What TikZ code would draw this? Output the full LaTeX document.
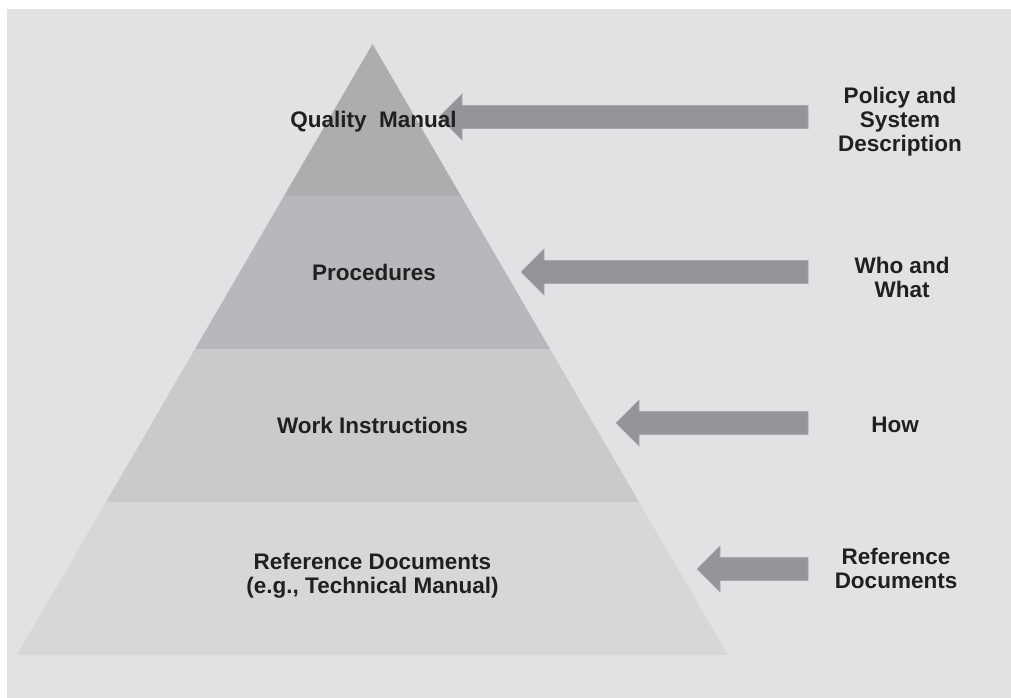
\documentclass[tikz,border=0pt]{standalone}
\usepackage{fontspec}
\setmainfont{Liberation Sans}
\definecolor{bgc}{RGB}{225,226,228}
\definecolor{bandA}{RGB}{172,173,175}
\definecolor{bandB}{RGB}{183,184,187}
\definecolor{bandC}{RGB}{201,202,204}
\definecolor{bandD}{RGB}{214,215,217}
\definecolor{arrc}{RGB}{147,149,152}
\definecolor{arre}{RGB}{165,167,170}
\definecolor{txt}{RGB}{35,31,32}
\tikzset{
  lbl/.style={font=\fontsize{22.5}{24}\selectfont\bfseries, text=txt, inner sep=0pt, align=center, anchor=base},
  blk/.style={fill=arrc, draw=arre, line width=0.6pt},
}
\newcommand\blkarrow[4]{% name, tip x, y, right x
  \coordinate (#1) at (#2,#3);
  \filldraw[blk] (#1) -- ++(23,-23) -- ++(0,11.5) -- (#4,#3-11.5) -- (#4,#3+11.5) -- (#2+23,#3+11.5) -- (#2+23,#3+23) -- cycle;
}
\begin{document}
\begin{tikzpicture}[x=1pt,y=-1pt]
\useasboundingbox (0,0) rectangle (1011,698);
\fill[white] (0,0) rectangle (1011,698);
\fill[bgc] (7,9) rectangle (1011,698);
% pyramid bands
\coordinate (apex) at (372.5,44);
\fill[bandA] (apex) -- (461,196) -- (284,196) -- cycle;
\fill[bandB] (284,196) -- (461,196) -- (550,349) -- (195,349) -- cycle;
\fill[bandC] (195,349) -- (550,349) -- (639,502) -- (106,502) -- cycle;
\fill[bandD] (106,502) -- (639,502) -- (728,655) -- (17,655) -- cycle;
% arrows
\blkarrow{a1}{439}{117}{808}
\blkarrow{a2}{521}{272}{808}
\blkarrow{a3}{616}{423}{808}
\blkarrow{a4}{697}{569}{808}
% labels
\node[lbl] (qm) at (373.5,128) {Quality\ \ Manual};
\node[lbl] (pr) at (374,280) {Procedures};
\node[lbl] (wi) at (372.5,433) {Work Instructions};
\node[lbl] (rd) at (372.5,593) {Reference Documents\\(e.g., Technical Manual)};
\node[lbl] (t1) at (900,151) {Policy and\\System\\Description};
\node[lbl] (t2) at (902,297) {Who and\\What};
\node[lbl] (t3) at (895,432) {How};
\node[lbl] (t4) at (896,588) {Reference\\Documents};
\end{tikzpicture}
\end{document}
